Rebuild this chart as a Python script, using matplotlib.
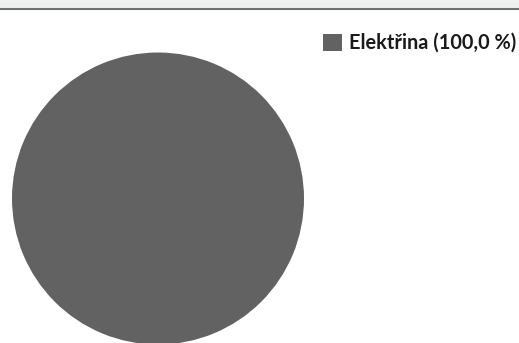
import matplotlib
matplotlib.use("Agg")
import matplotlib.pyplot as plt
from matplotlib.patches import Rectangle
from matplotlib.lines import Line2D

labels = ["Elektřina"]
shares = [100.0]
colors = ["#626262"]

W, H = 519, 343
fig = plt.figure(figsize=(W / 100, H / 100), dpi=100)
fig.patch.set_facecolor("white")

# header band and rule at the top
fig.patches.append(Rectangle((0, 1 - 8.5 / H), 1, 8.5 / H, transform=fig.transFigure,
                             facecolor="#eef0ef", edgecolor="none", zorder=0))
fig.lines.append(Line2D([0, 1], [1 - 9 / H, 1 - 9 / H], transform=fig.transFigure,
                        color="#6e6e6e", linewidth=1.5))

# pie: centre (158, 198.5) px, radius 146 px
r = 146
cx, cy = 158, 198.5
ax = fig.add_axes([(cx - r) / W, (H - cy - r) / H, 2 * r / W, 2 * r / H])
wedges, _ = ax.pie(shares, colors=colors, startangle=90, radius=1,
                   wedgeprops=dict(linewidth=0))
ax.set_xlim(-1, 1)
ax.set_ylim(-1, 1)
ax.set_aspect("equal")
ax.axis("off")

leg_labels = ["%s (%s %%)" % (l, ("%.1f" % v).replace(".", ",")) for l, v in zip(labels, shares)]
fig.legend(wedges, leg_labels, loc="upper left", bbox_to_anchor=(323 / W, 1 - 33 / H),
           frameon=False, handlelength=0.94, handleheight=0.94, handletextpad=0.38,
           borderpad=0, borderaxespad=0,
           prop=dict(family="Lato", weight="bold", size=14.3), labelcolor="#1a1a1a")

fig.savefig("out.png", dpi=100)
